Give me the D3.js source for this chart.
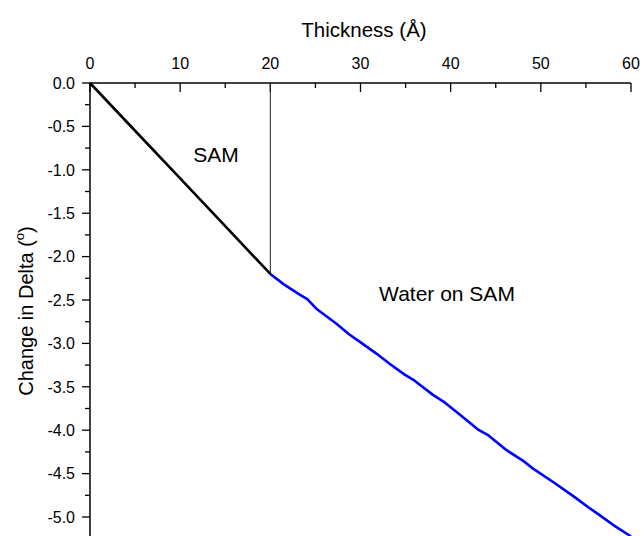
<!DOCTYPE html>
<html>
<head>
<meta charset="utf-8">
<script src="https://cdn.jsdelivr.net/npm/d3@7"></script>
<style>
  html, body { margin: 0; padding: 0; background: #fff; }
  svg { display: block; font-family: "Liberation Sans", Arial, sans-serif; }
</style>
</head>
<body>
<svg id="chart" width="644" height="536"></svg>
<script>
// SAM layer: delta change grows linearly up to 20 Å
const samThickness = [0, 5, 10, 15, 20];
const samDelta = [0, -0.55, -1.1, -1.65, -2.2];

// Water adsorbed on top of the SAM
const waterThickness = [20, 21.5, 23.3, 24.1, 25.1, 27.3, 28.8, 29.9, 31.8, 33.3, 34.9, 36.0, 38.0, 39.2, 41.0, 43.0, 44.2, 46.2, 48.0, 49.1, 51.4, 53.6, 55.3, 56.4, 58.0, 59.8, 60.0];
const waterDelta = [-2.20, -2.32, -2.44, -2.49, -2.60, -2.77, -2.90, -2.98, -3.12, -3.24, -3.36, -3.43, -3.59, -3.67, -3.82, -3.99, -4.06, -4.23, -4.35, -4.44, -4.60, -4.76, -4.89, -4.97, -5.09, -5.21, -5.23];

const xTicks = [0, 10, 20, 30, 40, 50, 60];
const yTicks = [0, -0.5, -1.0, -1.5, -2.0, -2.5, -3.0, -3.5, -4.0, -4.5, -5.0];
const boundary = 20; // SAM / water interface

const svg = d3.select("#chart");
const x = d3.scaleLinear().domain([0, 60]).range([90, 631]);
const y = d3.scaleLinear().domain([0, -5.5]).range([83, 83 + 5.5 * 86.8]);

// Top x axis: labels above, ticks pointing into the plot
const xAxis = svg.append("g").attr("transform", `translate(0,${y(0)})`);
xAxis.append("line").attr("x1", x(0)).attr("x2", x(60)).attr("stroke", "#000").attr("stroke-width", 1.5);
d3.range(0, 61, 5).forEach(v => {
  const major = v % 10 === 0;
  xAxis.append("line").attr("x1", x(v)).attr("x2", x(v)).attr("y1", 0).attr("y2", major ? 9 : 5)
    .attr("stroke", "#000").attr("stroke-width", 1.3);
});
xAxis.selectAll("text.tick").data(xTicks).join("text")
  .attr("x", d => x(d)).attr("y", -14).attr("text-anchor", "middle")
  .attr("font-size", 16).attr("fill", "#000").text(d => d);

// Left y axis: ticks pointing outward
const yAxis = svg.append("g").attr("transform", `translate(${x(0)},0)`);
yAxis.append("line").attr("y1", y(0)).attr("y2", 536).attr("stroke", "#000").attr("stroke-width", 1.5);
d3.range(0, 23).map(i => -i * 0.25).forEach(v => {
  const major = Math.abs(v * 2 - Math.round(v * 2)) < 1e-9;
  yAxis.append("line").attr("x1", major ? -8 : -5).attr("x2", 0).attr("y1", y(v)).attr("y2", y(v))
    .attr("stroke", "#000").attr("stroke-width", 1.3);
});
yAxis.selectAll("text.tick").data(yTicks).join("text")
  .attr("x", -15).attr("y", d => y(d)).attr("dy", "0.36em").attr("text-anchor", "end")
  .attr("font-size", 16).attr("fill", "#000").text(d => d3.format(".1f")(d).replace("−", "-"));

// Axis titles
svg.append("text").attr("x", 364).attr("y", 37).attr("text-anchor", "middle")
  .attr("font-size", 20.5).attr("fill", "#000").text("Thickness (Å)");
const yt = svg.append("text").attr("transform", "translate(33,311) rotate(-90)")
  .attr("text-anchor", "middle").attr("font-size", 20).attr("fill", "#000");
yt.append("tspan").text("Change in Delta (");
yt.append("tspan").attr("font-size", 13).attr("dy", -9).text("o");
yt.append("tspan").attr("dy", 9).text(")");

// Interface marker
const samEnd = samDelta[samDelta.length - 1];
svg.append("line").attr("x1", x(boundary)).attr("x2", x(boundary)).attr("y1", y(0)).attr("y2", y(samEnd))
  .attr("stroke", "#222").attr("stroke-width", 1);

const line = d3.line().x(d => x(d[0])).y(d => y(d[1]));
svg.append("path").datum(d3.zip(samThickness, samDelta)).attr("d", line)
  .attr("fill", "none").attr("stroke", "#000").attr("stroke-width", 2.6);
svg.append("path").datum(d3.zip(waterThickness, waterDelta)).attr("d", line)
  .attr("fill", "none").attr("stroke", "#0000ff").attr("stroke-width", 2.6).attr("stroke-linejoin", "round");

// Region labels
svg.append("text").attr("x", 216).attr("y", 162).attr("text-anchor", "middle")
  .attr("font-size", 21).attr("fill", "#000").text("SAM");
svg.append("text").attr("x", 447).attr("y", 301).attr("text-anchor", "middle")
  .attr("font-size", 21).attr("fill", "#000").text("Water on SAM");
</script>
</body>
</html>
